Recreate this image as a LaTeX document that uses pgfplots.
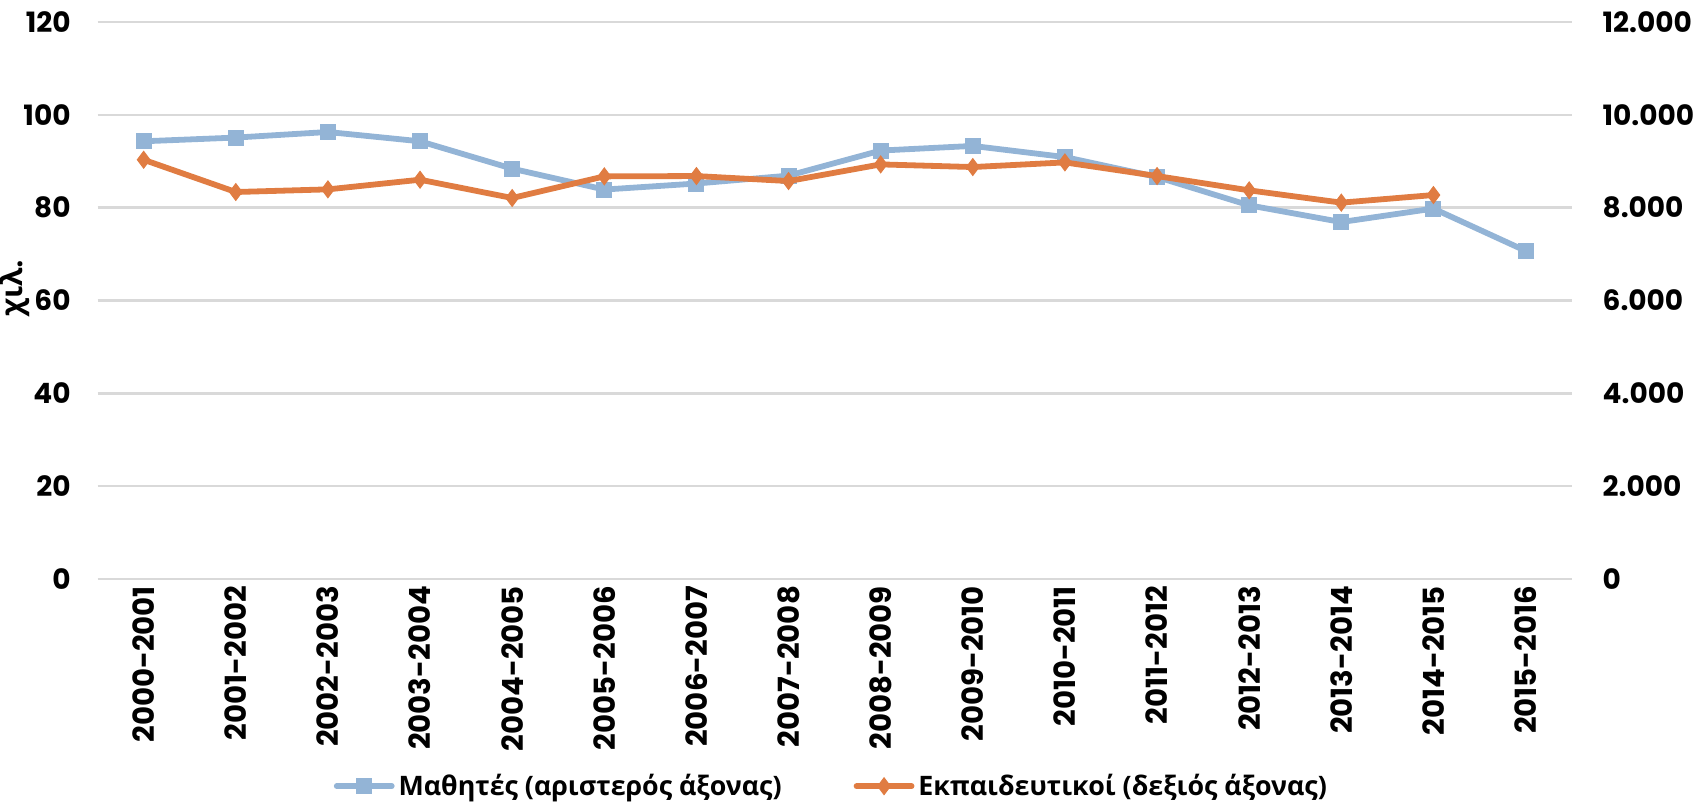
\documentclass[border=0pt]{standalone}
\usepackage{pgfplots}
\pgfplotsset{compat=1.18}
\usepackage{fontspec}
\setmainfont{Poppins}
\newfontfamily\grfont{Open Sans}
\definecolor{cblue}{RGB}{147,180,214}
\definecolor{corange}{RGB}{224,124,66}
\definecolor{cgrid}{RGB}{217,217,217}
\pgfplotstableread{
x s
0 94.3
1 95.1
2 96.3
3 94.3
4 88.4
5 83.9
6 85.2
7 86.9
8 92.3
9 93.3
10 90.9
11 86.6
12 80.5
13 76.9
14 79.8
15 70.7
}\students
\pgfplotstableread{
x t
0 9032
1 8337
2 8394
3 8602
4 8208
5 8674
6 8681
7 8573
8 8932
9 8875
10 8975
11 8681
12 8373
13 8108
14 8272
}\teachers
\begin{document}
\begin{tikzpicture}[font=\fontsize{14}{16}\selectfont\bfseries]
\useasboundingbox (0,0) rectangle (850pt,403.5pt);
\pgfplotsset{
  common/.style={
    at={(48.8pt,114pt)}, anchor=south west,
    scale only axis, width=737pt, height=278.5pt,
    xmin=-0.5, xmax=15.5,
    axis line style={draw=none},
    tick style={draw=none},
    /pgf/number format/assume math mode=true,
  },
  sstyle/.style={color=cblue, line width=2.9pt, mark=square*, mark size=3.75pt, mark options={solid, line width=0.5pt}},
  tstyle/.style={color=corange, line width=2.9pt, mark=diamond*, mark size=4.2pt, mark options={solid, line width=0.5pt}},
}
\begin{axis}[common,
  ymin=0, ymax=120, ytick={0,20,...,120},
  ymajorgrids, grid style={cgrid, line width=1.2pt},
  xtick={0,...,15},
  xticklabels={2000-2001,2001-2002,2002-2003,2003-2004,2004-2005,2005-2006,2006-2007,2007-2008,2008-2009,2009-2010,2010-2011,2011-2012,2012-2013,2013-2014,2014-2015,2015-2016},
  xticklabel style={rotate=90, anchor=east, font=\fontsize{14.6}{16}\selectfont\bfseries},
  yticklabel style={anchor=east, xshift=-10pt, font=\fontsize{14}{16}\selectfont\bfseries},
  ylabel={\grfont χιλ.},
  every axis y label/.style={at={(axis description cs:-0.056,0.522)}, rotate=90, anchor=center, font=\fontsize{15}{16}\selectfont\bfseries},
]
\addplot[sstyle] table[x=x,y=s] {\students};
\end{axis}
\begin{axis}[common,
  ymin=0, ymax=12000, ytick={0,2000,...,12000},
  axis y line*=right, axis x line=none,
  xtick=\empty,
  yticklabel style={anchor=west, xshift=12pt, font=\fontsize{14}{16}\selectfont\bfseries, /pgf/number format/1000 sep={.}},
  scaled y ticks=false,
  legend columns=2,
  legend style={at={(axis description cs:0.4985,-0.372)}, anchor=center, draw=none, fill=none,
    font=\grfont\fontsize{13.4}{16}\selectfont\bfseries,
    /tikz/every even column/.append style={column sep=34pt}},
  legend image code/.code={
    \draw[#1, line cap=round, mark repeat=2, mark phase=2] plot coordinates {(0pt,0pt) (13.75pt,0pt) (27.5pt,0pt)};
  },
]
\addlegendimage{sstyle}
\addlegendentry{Μαθητές (αριστερός άξονας)}
\addplot[tstyle] table[x=x,y=t] {\teachers};
\addlegendentry{Εκπαιδευτικοί (δεξιός άξονας)}
\end{axis}
\end{tikzpicture}
\end{document}
